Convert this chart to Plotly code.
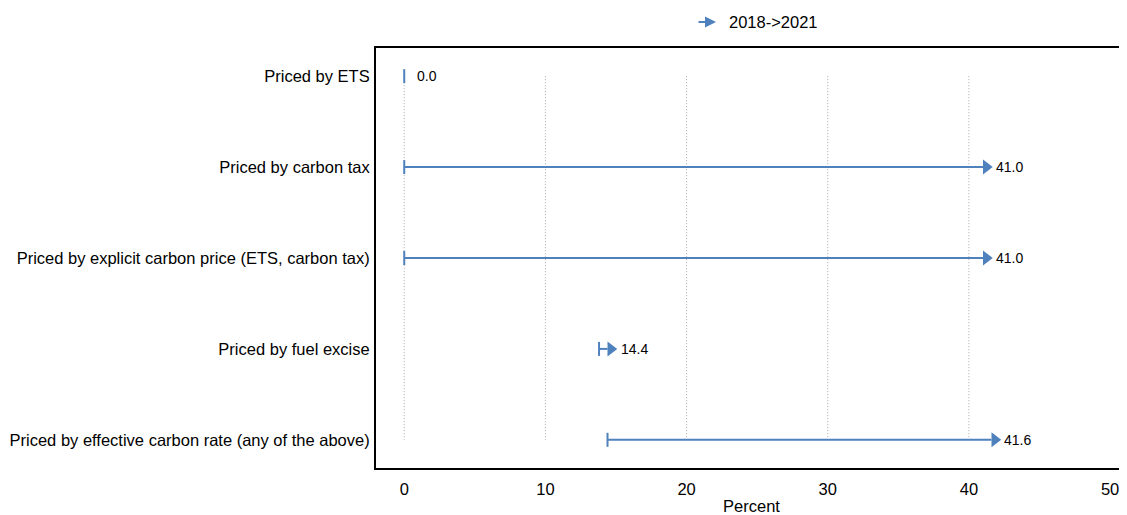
import plotly.graph_objects as go

# ---- data ----
categories = [
    "Priced by ETS",
    "Priced by carbon tax",
    "Priced by explicit carbon price (ETS, carbon tax)",
    "Priced by fuel excise",
    "Priced by effective carbon rate (any of the above)",
]
start_2018 = [0.0, 0.0, 0.0, 13.8, 14.4]
end_2021 = [0.0, 41.0, 41.0, 14.4, 41.6]
value_labels = ["0.0", "41.0", "41.0", "14.4", "41.6"]
x_ticks = [0, 10, 20, 30, 40, 50]
grid_vals = [0, 10, 20, 30, 40]
legend_name = "2018->2021"

# ---- layout constants (page body adds an 8px offset) ----
OFF = 8
W, H = 1127 - OFF, 515 - OFF
ML, MR, MT, MB = 376 - OFF, 0, 48 - OFF, 515 - 468
X_RANGE = [-2.0, 51.2]
Y_RANGE = [len(categories) - 1 + 0.31, -0.31]
BLUE = "#4f81bd"
FONT = "Liberation Sans, Arial, sans-serif"

plot_w = W - ML - MR
plot_h = H - MT - MB
px_per_unit = plot_w / (X_RANGE[1] - X_RANGE[0])
tri_size = 13
tri_offset = (tri_size / 2 / 2) / px_per_unit  # put the triangle's base at the value

fig = go.Figure()

# dotted vertical gridlines spanning the categories only
gx, gy = [], []
for v in grid_vals:
    gx += [v, v, None]
    gy += [categories[0], categories[-1], None]
fig.add_trace(go.Scatter(
    x=gx, y=gy, mode="lines",
    line=dict(color="#a8a8a8", width=1, dash="1px,2px"),
    hoverinfo="skip", showlegend=False,
))

# arrows
for cat, s, e in zip(categories, start_2018, end_2021):
    fig.add_trace(go.Scatter(
        x=[s, e], y=[cat, cat], mode="lines",
        line=dict(color=BLUE, width=2),
        hoverinfo="skip", showlegend=False,
    ))
    fig.add_trace(go.Scatter(
        x=[s], y=[cat], mode="markers",
        marker=dict(symbol="line-ns", size=10, color=BLUE,
                    line=dict(color=BLUE, width=2)),
        hoverinfo="skip", showlegend=False,
    ))
    if e != s:
        fig.add_trace(go.Scatter(
            x=[e + tri_offset], y=[cat], mode="markers",
            marker=dict(symbol="triangle-right", size=tri_size, color=BLUE,
                        line=dict(width=0)),
            hoverinfo="skip", showlegend=False,
        ))

# value labels
annotations = []
for cat, e, lab in zip(categories, end_2021, value_labels):
    annotations.append(dict(
        x=e, y=cat, xref="x", yref="y", text=lab, showarrow=False,
        xanchor="left", yanchor="middle", xshift=11,
        font=dict(family=FONT, size=14, color="#000000"),
    ))

# legend (arrow + label)
leg_y = (H - MB - (22 - OFF)) / plot_h
annotations.append(dict(
    x=(716 - OFF - ML) / plot_w, y=leg_y,
    xref="paper", yref="paper", ax=-19, ay=0, axref="pixel", ayref="pixel",
    text="", showarrow=True, arrowhead=2, arrowsize=1.1, arrowwidth=2,
    arrowcolor=BLUE,
))
annotations.append(dict(
    x=(727 - OFF - ML) / plot_w, y=leg_y,
    xref="paper", yref="paper", text=legend_name, showarrow=False,
    xanchor="left", yanchor="middle",
    font=dict(family=FONT, size=16.5, color="#000000"),
))

fig.update_layout(
    width=W, height=H,
    margin=dict(l=ML, r=MR, t=MT, b=MB, pad=0),
    paper_bgcolor="white", plot_bgcolor="white",
    font=dict(family=FONT, size=16.5, color="#000000"),
    showlegend=False,
    annotations=annotations,
    xaxis=dict(
        range=X_RANGE, tickvals=x_ticks, ticktext=[str(t) for t in x_ticks],
        showgrid=False, zeroline=False,
        showline=True, linecolor="#000000", linewidth=2, mirror=True,
        ticks="", tickfont=dict(family=FONT, size=16.5, color="#000000"),
        ticklabelstandoff=5,
        title=dict(text="Percent", font=dict(family=FONT, size=16.5, color="#000000"),
                   standoff=5),
    ),
    yaxis=dict(
        type="category", categoryorder="array", categoryarray=categories,
        range=Y_RANGE, showgrid=False, zeroline=False,
        showline=True, linecolor="#000000", linewidth=2, mirror=False,
        ticks="", tickfont=dict(family=FONT, size=16.5, color="#000000"),
        ticklabelstandoff=1,
    ),
)

fig.write_html("out.html")
